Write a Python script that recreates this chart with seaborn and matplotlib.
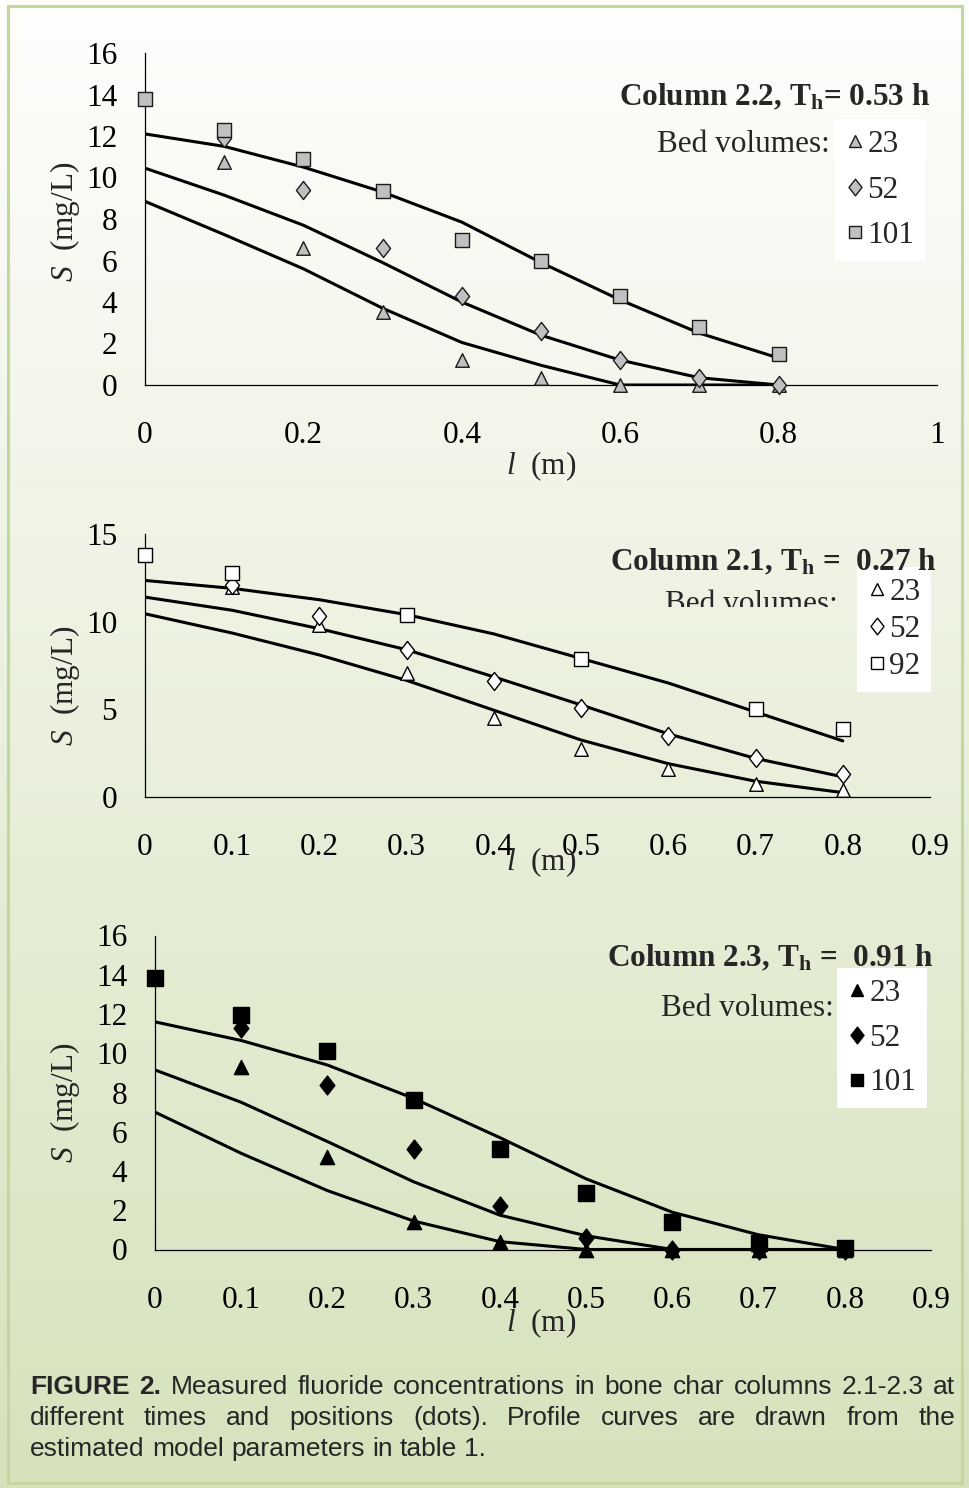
import numpy as np
import matplotlib
matplotlib.use('Agg')
import matplotlib.pyplot as plt
import seaborn as sns
from matplotlib.lines import Line2D
from matplotlib.patches import Rectangle
from matplotlib.path import Path
from matplotlib.transforms import Bbox

# position in the column (m)
positions = [0, 0.1, 0.2, 0.3, 0.4, 0.5, 0.6, 0.7, 0.8]
nan = np.nan

# column 2.2, measured (dots) and model (curves)
c22_meas_23 = [nan, 10.75, 6.6, 3.5, 1.2, 0.35, 0, 0, 0]
c22_meas_52 = [nan, 11.9, 9.4, 6.6, 4.3, 2.6, 1.2, 0.35, 0]
c22_meas_101 = [13.8, 12.3, 10.9, 9.35, 7.0, 6.0, 4.3, 2.8, 1.5]
c22_model_23 = [8.85, 7.25, 5.6, 3.7, 2.05, 0.95, 0, 0, 0]
c22_model_52 = [10.45, 9.15, 7.7, 5.9, 4.0, 2.4, 1.2, 0.35, 0]
c22_model_101 = [12.1, 11.5, 10.5, 9.3, 7.85, 5.9, 4.1, 2.5, 1.3]

# column 2.1
c21_meas_23 = [nan, 12.0, 9.8, 7.1, 4.5, 2.75, 1.6, 0.75, 0.4]
c21_meas_52 = [nan, 12.1, 10.3, 8.4, 6.6, 5.1, 3.5, 2.2, 1.3]
c21_meas_92 = [13.8, 12.8, nan, 10.4, nan, 7.85, nan, 5.0, 3.85]
c21_model_23 = [10.45, 9.35, 8.1, 6.65, 4.95, 3.25, 1.9, 0.9, 0.25]
c21_model_52 = [11.4, 10.65, 9.6, 8.4, 6.85, 5.25, 3.6, 2.2, 1.15]
c21_model_92 = [12.35, 11.9, 11.25, 10.4, 9.3, 7.9, 6.5, 4.85, 3.2]

# column 2.3
c23_meas_23 = [nan, 9.3, 4.7, 1.4, 0.4, 0, 0, 0, 0]
c23_meas_52 = [nan, 11.3, 8.4, 5.1, 2.2, 0.6, 0, 0, 0]
c23_meas_101 = [13.85, 11.95, 10.1, 7.6, 5.1, 2.9, 1.4, 0.35, 0.1]
c23_model_23 = [7.0, 4.9, 3.0, 1.45, 0.4, 0, 0, 0, 0]
c23_model_52 = [9.15, 7.5, 5.5, 3.45, 1.75, 0.7, 0, 0, 0]
c23_model_101 = [11.6, 10.65, 9.4, 7.7, 5.7, 3.6, 1.9, 0.75, 0]

W, H = 970, 1488

sns.set_style('white')
plt.rcParams['font.family'] = ['Liberation Serif', 'DejaVu Serif']
plt.rcParams['mathtext.fontset'] = 'custom'
plt.rcParams['mathtext.rm'] = 'Liberation Serif'
plt.rcParams['mathtext.it'] = 'Liberation Serif:italic'
plt.rcParams['mathtext.bf'] = 'Liberation Serif:bold'

fig = plt.figure(figsize=(W / 100, H / 100), dpi=100)

# diamond a bit narrower than tall, like the Excel marker
diamond = Path([(0, 1), (0.78, 0), (0, -1), (-0.78, 0), (0, 1)],
               [Path.MOVETO, Path.LINETO, Path.LINETO, Path.LINETO, Path.CLOSEPOLY])


def fx(x):
    return x / W


def fy(y):
    return 1 - y / H


# background gradient + border
bg = fig.add_axes([0, 0, 1, 1], zorder=-10)
top = np.array([254, 254, 253]) / 255
bot = np.array([214, 226, 188]) / 255
t = np.linspace(0, 1, 256)[:, None]
grad = top[None, :] * (1 - t) + bot[None, :] * t
bg.imshow(grad[:, None, :], aspect='auto', extent=[0, 1, 0, 1])
bg.set_axis_off()
fig.add_artist(Rectangle((fx(8.5), fy(1483)), fx(962 - 8.5), (1483 - 5.5) / H,
                         transform=fig.transFigure, fill=False,
                         edgecolor='#c3d69b', lw=2.2))

FS = 22.5


def panel(rect, xmax, xstep, ymax, ystep, xlabels, series, style, title, title_xy,
          bed_xy, leg_anchor, leg_space, xlab_y, ylab_xy, clip_bed=None):
    ax = fig.add_axes(rect)
    ax.set_facecolor('none')
    for model, meas, marker, size in series:
        sns.lineplot(x=positions, y=model, ax=ax, color='black', lw=2.2, zorder=2)
        sns.scatterplot(x=positions, y=meas, ax=ax, marker=marker, s=size,
                        color=style[0], edgecolor=style[1], linewidth=1.0,
                        zorder=3, clip_on=False)
    ax.set_xlim(0, xmax)
    ax.set_ylim(0, ymax)
    ax.set_xticks(np.arange(0, xmax + 1e-9, xstep))
    ax.set_xticklabels(xlabels)
    ax.set_yticks(np.arange(0, ymax + 1e-9, ystep))
    ax.set_yticklabels([f'{v:g}' for v in np.arange(0, ymax + 1e-9, ystep)])
    ax.tick_params(axis='x', direction='in', length=6, width=0.9, pad=26,
                   labelsize=FS, colors='black')
    ax.tick_params(axis='y', direction='in', length=6, width=0.9, pad=20,
                   labelsize=FS, colors='black')
    sns.despine(ax=ax)
    for s in ['left', 'bottom']:
        ax.spines[s].set_linewidth(0.9)
        ax.spines[s].set_color('black')
    ax.set_xlabel('')
    ax.set_ylabel('')
    fig.text(fx(541), fy(xlab_y), r'$l$  (m)', fontsize=FS, ha='center', va='center')
    fig.text(fx(ylab_xy[0]), fy(ylab_xy[1]), r'$S$  (mg/L)', fontsize=FS,
             rotation=90, ha='center', va='center')
    fig.text(fx(title_xy[0]), fy(title_xy[1]), title, fontsize=FS, weight='bold',
             ha='right', va='center')
    bed = fig.text(fx(bed_xy[0]), fy(bed_xy[1]), 'Bed volumes:', fontsize=FS,
                   ha='right', va='baseline')
    if clip_bed is not None:
        # the source cuts this label off just above its baseline
        bed.set_clip_on(True)
        bed.set_clip_box(Bbox.from_extents(clip_bed[0], H - clip_bed[3],
                                           clip_bed[2], H - clip_bed[1]))
    handles = [Line2D([], [], ls='none', marker=m, markersize=ms,
                      markerfacecolor=style[0], markeredgecolor=style[1],
                      markeredgewidth=1.0)
               for m, ms in [('^', 8), (diamond, 12), ('s', 9)]]
    leg = ax.legend(handles, style[2], loc='upper left',
                    bbox_to_anchor=(fx(leg_anchor[0]), fy(leg_anchor[1])),
                    bbox_transform=fig.transFigure, fontsize=FS, frameon=True,
                    fancybox=False, framealpha=1, edgecolor='white',
                    facecolor='white', borderpad=0.34, handlelength=0.6,
                    handletextpad=0.1, labelspacing=leg_space, borderaxespad=0)
    leg.get_frame().set_linewidth(0)
    return ax


# panel 1: column 2.2
panel([fx(145), fy(385), 792 / W, 332 / H], 1.0, 0.2, 16, 2,
      ['0', '0.2', '0.4', '0.6', '0.8', '1'],
      [(c22_model_23, c22_meas_23, '^', 95), (c22_model_52, c22_meas_52, diamond, 170),
       (c22_model_101, c22_meas_101, 's', 110)],
      ('#c0c0c0', '#1a1a1a', ['23', '52', '101']),
      r'Column 2.2, T$_{\mathbf{h}}$= 0.53 h', (930, 97),
      (830, 152), (835, 119), 0.54, 466, (65, 222))

# panel 2: column 2.1
panel([fx(145), fy(797), 785 / W, 263 / H], 0.9, 0.1, 15, 5,
      ['0', '0.1', '0.2', '0.3', '0.4', '0.5', '0.6', '0.7', '0.8', '0.9'],
      [(c21_model_23, c21_meas_23, '^', 95), (c21_model_52, c21_meas_52, diamond, 170),
       (c21_model_92, c21_meas_92, 's', 110)],
      ('white', 'black', ['23', '52', '92']),
      r'Column 2.1, T$_{\mathbf{h}}$ =  0.27 h', (937, 562),
      (838, 612), (857, 567), 0.26, 862, (65, 686), clip_bed=(500, 560, 860, 607))

# panel 3: column 2.3
panel([fx(155), fy(1249.5), 776 / W, 314 / H], 0.9, 0.1, 16, 2,
      ['0', '0.1', '0.2', '0.3', '0.4', '0.5', '0.6', '0.7', '0.8', '0.9'],
      [(c23_model_23, c23_meas_23, '^', 105), (c23_model_52, c23_meas_52, diamond, 185),
       (c23_model_101, c23_meas_101, 's', 125)],
      ('black', 'black', ['23', '52', '101']),
      r'Column 2.3, T$_{\mathbf{h}}$ =  0.91 h', (934, 958),
      (834, 1016), (837, 968), 0.51, 1323, (65, 1103))

# caption, justified like the source
caption_lines = [
    ([('FIGURE', 'bold'), ('2.', 'bold')] +
     [(w, 'normal') for w in 'Measured fluoride concentrations in bone char columns 2.1-2.3 at'.split()], True),
    ([(w, 'normal') for w in 'different times and positions (dots). Profile curves are drawn from the'.split()], True),
    ([(w, 'normal') for w in 'estimated model parameters in table 1.'.split()], False),
]
renderer = fig.canvas.get_renderer()
CAP_FS = 19
left, right = 30, 955
for i, (words, justify) in enumerate(caption_lines):
    base = 1394 + 31 * i
    texts = [fig.text(0, fy(base), w, fontsize=CAP_FS, weight=wt,
                      family='Liberation Sans', va='baseline', ha='left')
             for w, wt in words]
    widths = [tx.get_window_extent(renderer).width for tx in texts]
    if justify:
        gap = (right - left - sum(widths)) / (len(words) - 1)
    else:
        space = fig.text(0, 0, 'a a', fontsize=CAP_FS, family='Liberation Sans')
        aa = fig.text(0, 0, 'aa', fontsize=CAP_FS, family='Liberation Sans')
        gap = space.get_window_extent(renderer).width - aa.get_window_extent(renderer).width
        space.remove()
        aa.remove()
    x = left
    for tx, w in zip(texts, widths):
        tx.set_x(fx(x))
        x += w + gap

fig.savefig('out.png', dpi=100)
